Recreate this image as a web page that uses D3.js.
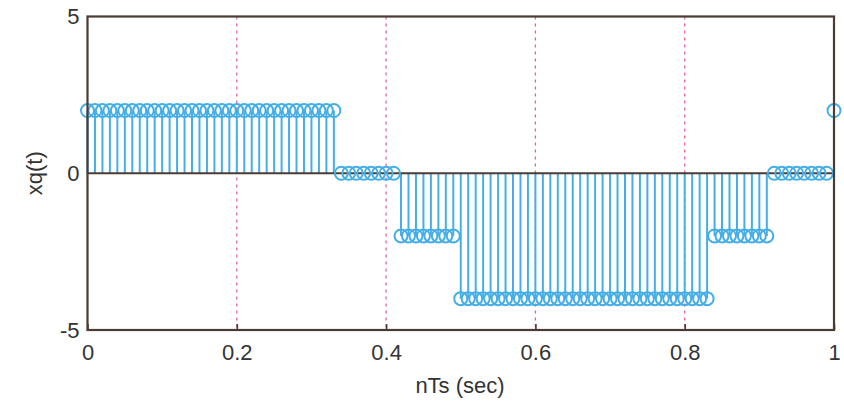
<!DOCTYPE html>
<html><head><meta charset="utf-8">
<script src="https://cdn.jsdelivr.net/npm/d3@7"></script>
<style>body{margin:0;background:#fff}svg{display:block}</style>
</head><body>
<svg id="c" width="844" height="407"></svg>
<script>
// sample times nTs = 0, 0.01, ..., 1.00 (built from index list)
const sampleIndex = d3.range(0, 101);
const sampleTimes = sampleIndex.map(i => i / 100);
// quantized levels per segment
const segmentLevels = [2, 0, -2, -4, -2, 0, 2];
const segmentCounts = [34, 8, 8, 34, 8, 8, 1];
const xTicks = [0, 0.2, 0.4, 0.6, 0.8, 1];
const xTickLabels = ['0', '0.2', '0.4', '0.6', '0.8', '1'];
const yTicks = [-5, 0, 5];
const yTickLabels = ['-5', '0', '5'];
const gridX = [0.2, 0.4, 0.6, 0.8];

const values = [];
segmentLevels.forEach((v, k) => { for (let j = 0; j < segmentCounts[k]; j++) values.push(v); });
const data = sampleTimes.map((t, i) => ({t, v: values[i]}));

const svg = d3.select('#c');
const L = 87.5, R = 834, T = 16.5, B = 330;
const x = d3.scaleLinear().domain([0, 1]).range([L, R]);
const y = d3.scaleLinear().domain([-5, 5]).range([B, T]);
const axisCol = '#4a3b33';
const stemCol = '#45aee6';

// grid
svg.append('g').selectAll('line').data(gridX).join('line')
  .attr('x1', d => x(d)).attr('x2', d => x(d)).attr('y1', T).attr('y2', B)
  .attr('stroke', '#e060b0').attr('stroke-width', 1.3).attr('stroke-dasharray', '3,4');

// stems
svg.append('g').selectAll('line').data(data).join('line')
  .attr('x1', d => x(d.t)).attr('x2', d => x(d.t))
  .attr('y1', y(0)).attr('y2', d => y(d.v))
  .attr('stroke', stemCol).attr('stroke-width', 2);

// baseline
svg.append('line').attr('x1', L).attr('x2', R).attr('y1', y(0)).attr('y2', y(0))
  .attr('stroke', axisCol).attr('stroke-width', 1.8);

// markers
svg.append('g').selectAll('circle').data(data).join('circle')
  .attr('cx', d => x(d.t)).attr('cy', d => y(d.v)).attr('r', 6.5)
  .attr('fill', 'none').attr('stroke', stemCol).attr('stroke-width', 2);

// axes box
svg.append('rect').attr('x', L).attr('y', T).attr('width', R - L).attr('height', B - T)
  .attr('fill', 'none').attr('stroke', axisCol).attr('stroke-width', 2.2);

const font = 'Liberation Sans, Arial, sans-serif';
const xAxis = d3.axisBottom(x).tickValues(xTicks).tickSize(-6).tickPadding(14)
  .tickFormat((d, i) => xTickLabels[i]);
const gx = svg.append('g').attr('transform', `translate(0,${B})`).call(xAxis);
gx.select('.domain').remove();
gx.selectAll('line').attr('stroke', axisCol).attr('stroke-width', 1.6);
gx.selectAll('text').attr('font-family', font).attr('font-size', 22).attr('fill', '#333');

const yAxis = d3.axisLeft(y).tickValues(yTicks).tickSize(0).tickPadding(8)
  .tickFormat((d, i) => yTickLabels[i]);
const gy = svg.append('g').attr('transform', `translate(${L},0)`).call(yAxis);
gy.select('.domain').remove();
gy.selectAll('text').attr('font-family', font).attr('font-size', 22).attr('fill', '#333');

svg.append('text').attr('x', 460).attr('y', 393).attr('text-anchor', 'middle')
  .attr('font-family', font).attr('font-size', 22).attr('fill', '#333').text('nTs (sec)');
svg.append('text').attr('transform', `translate(42,${y(0)}) rotate(-90)`).attr('text-anchor', 'middle')
  .attr('font-family', font).attr('font-size', 22).attr('fill', '#333').text('xq(t)');
</script>
</body></html>
